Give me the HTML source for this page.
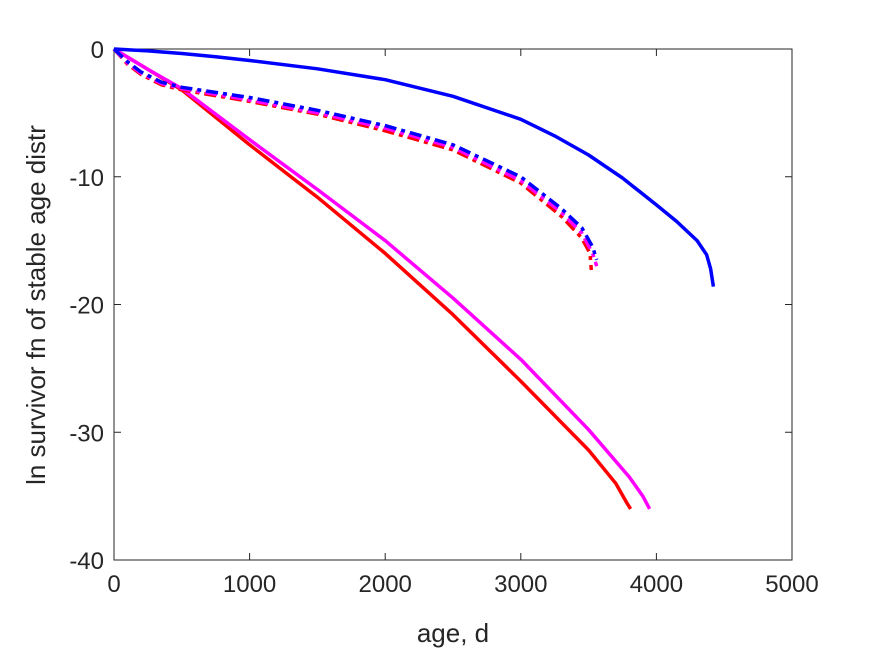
<!DOCTYPE html>
<html><head><meta charset="utf-8"><style>
body{margin:0;background:#fff;}
svg text{font-family:"Liberation Sans",sans-serif;fill:#262626;}
</style></head><body>
<svg id="chart" width="875" height="656" viewBox="0 0 875 656">
<rect width="875" height="656" fill="#fff"/>
<g id="plot"></g>
<text x="453" y="642" font-size="26" text-anchor="middle">age, d</text>
<text transform="translate(45,305) rotate(-90)" font-size="26" text-anchor="middle">ln survivor fn of stable age distr</text>
</svg>
<script>
const xTicks=[0,1000,2000,3000,4000,5000];
const yTicks=[0,-10,-20,-30,-40];
const blueSolidX=[0,250,500,750,1000,1500,2000,2500,3000,3250,3500,3750,4000,4150,4300,4370,4400,4420];
const blueSolidY=[0,-0.15,-0.35,-0.6,-0.9,-1.55,-2.4,-3.7,-5.5,-6.8,-8.3,-10.1,-12.2,-13.5,-15,-16.1,-17.2,-18.6];
const blueDashX=[0,100,200,350,500,1000,1500,2000,2500,3000,3300,3450,3530,3560];
const blueDashY=[0,-1,-1.8,-2.6,-3,-3.8,-4.8,-6,-7.5,-10,-12.5,-14,-15.5,-16.5];
const magDashY=[0,-1.1,-1.9,-2.7,-3.1,-4,-5,-6.2,-7.7,-10.3,-12.8,-14.4,-16,-17];
const redDashX=[0,100,200,350,500,1000,1500,2000,2500,3000,3300,3450,3510,3520];
const redDashY=[0,-1.2,-2,-2.8,-3.2,-4.1,-5.1,-6.4,-7.9,-10.5,-13.1,-14.8,-16,-17.3];
const magX=[0,250,500,1000,1500,2000,2500,3000,3500,3800,3900,3950];
const magY=[0,-1.6,-3.1,-7.1,-11,-15,-19.5,-24.3,-29.8,-33.5,-35,-36];
const redX=[0,250,500,1000,1500,2000,2500,3000,3500,3700,3780,3810];
const redY=[0,-1.6,-3.2,-7.5,-11.6,-16,-20.8,-26,-31.4,-34,-35.5,-36];
const L=114,R=792,T=49,B=560;
const sx=v=>L+(v-0)/5000*(R-L);
const sy=v=>T+(0-v)/40*(B-T);
const NS="http://www.w3.org/2000/svg";
const g=document.getElementById('plot');
function mk(t,a){const e=document.createElementNS(NS,t);for(const k in a)e.setAttribute(k,a[k]);g.appendChild(e);return e;}
const box=mk('rect',{x:L,y:T,width:R-L,height:B-T,fill:'none',stroke:'#262626','stroke-width':1});


xTicks.forEach(v=>{
 const t=mk('line',{x1:sx(v),x2:sx(v),y1:B,y2:B-7,stroke:'#262626'});
 
 
 const t2=mk('line',{x1:sx(v),x2:sx(v),y1:T,y2:T+7,stroke:'#262626'});
 
 
 const l=mk('text',{x:sx(v),y:B+32,'font-size':24,'text-anchor':'middle'});l.textContent=v;
 
 
});
yTicks.forEach(v=>{
 const t=mk('line',{x1:L,x2:L+7,y1:sy(v),y2:sy(v),stroke:'#262626'});
 
 
 const t2=mk('line',{x1:R,x2:R-7,y1:sy(v),y2:sy(v),stroke:'#262626'});
 
 
 const l=mk('text',{x:L-10,y:sy(v)+9,'font-size':24,'text-anchor':'end'});l.textContent=v;
 
 
});
function line(xs,ys,color,dash,name){
 const d=xs.map((x,i)=>(i?'L':'M')+sx(x).toFixed(1)+','+sy(ys[i]).toFixed(1)).join('');
 const a={d:d,fill:'none',stroke:color,'stroke-width':3.5,'stroke-linejoin':'round'};
 if(dash)a['stroke-dasharray']=dash;
 const p=mk('path',a);
 
 
}
line(redX,redY,'#ff0000',null,'red-solid-line');
line(magX,magY,'#ff00ff',null,'magenta-solid-line');
line(redDashX,redDashY,'#ff0000','12,5,4,5','red-dashdot-line');
line(blueDashX,magDashY,'#ff00ff','12,5,4,5','magenta-dashdot-line');
line(blueDashX,blueDashY,'#0000ff','12,5,4,5','blue-dashdot-line');
line(blueSolidX,blueSolidY,'#0000ff',null,'blue-solid-line');
</script>
</body></html>
